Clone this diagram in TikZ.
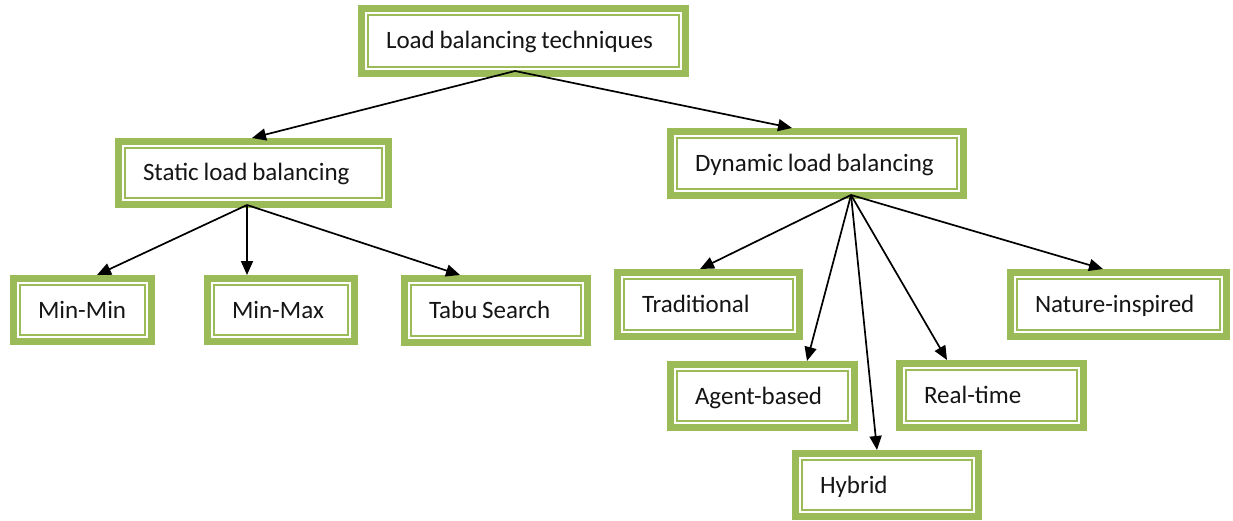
\documentclass[tikz,border=0pt]{standalone}
\usepackage{fontspec}
\setmainfont{Carlito}
\usetikzlibrary{arrows.meta}
\definecolor{boxgreen}{HTML}{9BBB59}
\definecolor{ink}{HTML}{151515}
\tikzset{
  gbox/.style={draw=boxgreen, line width=7pt, fill=white, outer sep=3.5pt,
    inner xsep=0pt, inner ysep=0pt, align=left, anchor=north west,
    text height=18pt, text depth=2pt, text=ink,
    font=\fontsize{25}{30}\selectfont,
    execute at begin node={\spaceskip=0.19em\relax\hspace*{24.5pt}},
    path picture={\draw[boxgreen, line width=2pt]
      ([shift={(6.5pt,6.5pt)}]path picture bounding box.south west) rectangle
      ([shift={(-6.5pt,-6.5pt)}]path picture bounding box.north east);}},
  arr/.style={draw=black, line width=1.7pt, -{Triangle[length=14pt,width=12pt]}}
}
\begin{document}
\begin{tikzpicture}[x=1pt,y=-1pt]
\useasboundingbox (0,0) rectangle (1233,521);
% boxes
\node[gbox, text width=324pt, minimum height=65pt] (root) at (358,5) {Load balancing techniques};
\node[gbox, text width=270pt, minimum height=63pt] (static) at (115,138) {Static load balancing};
\node[gbox, text width=293pt, minimum height=64pt] (dynamic) at (667,128) {Dynamic load balancing};
\node[gbox, text width=138pt, minimum height=63pt] (minmin) at (10,275) {Min-Min};
\node[gbox, text width=147pt, minimum height=63pt] (minmax) at (204,275) {Min-Max};
\node[gbox, text width=183pt, minimum height=64pt] (tabu) at (401,275) {Tabu Search};
\node[gbox, text width=182pt, minimum height=64pt] (trad) at (614,269) {Traditional};
\node[gbox, text width=216pt, minimum height=64pt] (nature) at (1007,269) {Nature-inspired};
\node[gbox, text width=184pt, minimum height=63pt] (agent) at (667,361) {Agent-based};
\node[gbox, text width=184pt, minimum height=64pt] (real) at (896,360) {Real-time};
\node[gbox, text width=183pt, minimum height=63pt] (hybrid) at (792,450) {Hybrid};
% fan-out points on the lower edges
\coordinate (rootfan) at (515,71);
\coordinate (staticfan) at (247,205);
\coordinate (dynfan) at (851,195);
% connectors
\draw[arr] (rootfan) -- (252,0 |- static.north);
\draw[arr] (rootfan) -- (792,0 |- dynamic.north);
\draw[arr] (staticfan) -- (97,0 |- minmin.north);
\draw[arr] (staticfan) -- (247,0 |- minmax.north);
\draw[arr] (staticfan) -- (460,0 |- tabu.north);
\draw[arr] (dynfan) -- (700,0 |- trad.north);
\draw[arr] (dynfan) -- (807,0 |- agent.north);
\draw[arr] (dynfan) -- (877,0 |- hybrid.north);
\draw[arr] (dynfan) -- (947,0 |- real.north);
\draw[arr] (dynfan) -- (1103,0 |- nature.north);
\end{tikzpicture}
\end{document}
